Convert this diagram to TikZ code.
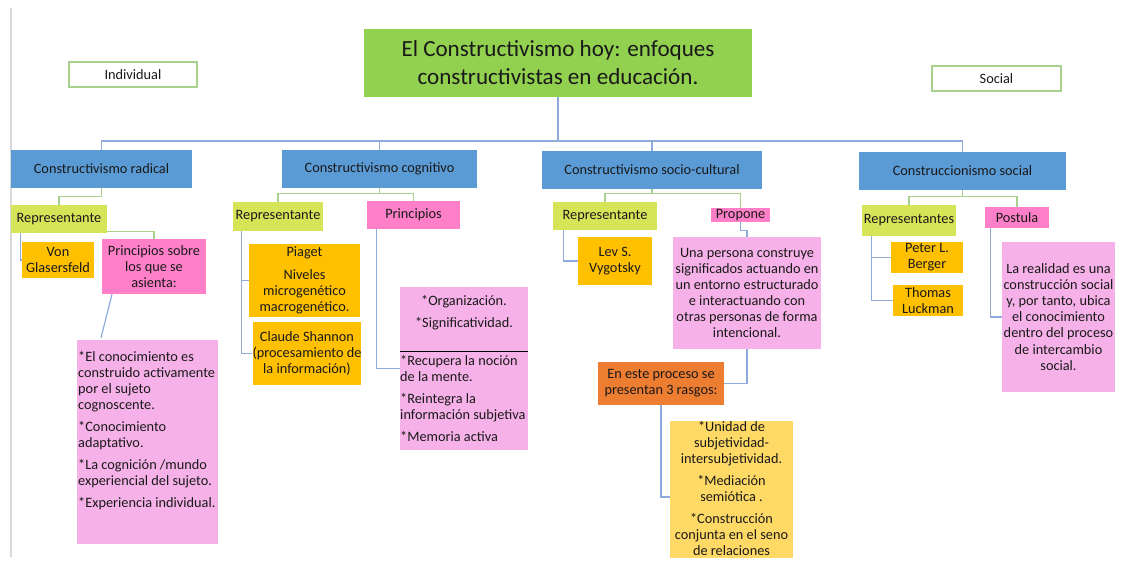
\documentclass[tikz,border=0pt]{standalone}
\usepackage{fontspec}
\setmainfont{Carlito}

\newcommand\pxu{0.03cm}
\definecolor{boxblue}{HTML}{5B9BD5}
\definecolor{titlegreen}{HTML}{92D050}
\definecolor{lime}{RGB}{214,228,88}
\definecolor{hotpink}{RGB}{255,128,200}
\definecolor{softpink}{RGB}{246,178,232}
\definecolor{amber}{HTML}{FFC000}
\definecolor{deeporange}{HTML}{ED7D31}
\definecolor{paleyellow}{HTML}{FFD966}
\definecolor{linkblue}{RGB}{143,170,220}
\definecolor{linkgreen}{RGB}{169,209,142}

\tikzset{
  sz/.style 2 args={minimum width=#1*\pxu, minimum height=#2*\pxu},
  base/.style={inner sep=0pt, align=center, text=black!90, font=\fontsize{12.2}{13.7}\selectfont},
  titlebox/.style={base, fill=titlegreen, font=\fontsize{19.7}{24}\selectfont},
  tagbox/.style={base, draw=linkgreen, line width=1pt, fill=white},
  bluebox/.style={base, fill=boxblue},
  limebox/.style={base, fill=lime},
  pinkbox/.style={base, fill=hotpink},
  softbox/.style={base, fill=softpink},
  amberbox/.style={base, fill=amber},
  orangebox/.style={base, fill=deeporange},
  yellowbox/.style={base, fill=paleyellow},
  blueline/.style={draw=linkblue, line width=1pt},
  greenline/.style={draw=linkgreen, line width=1.2pt},
}

\begin{document}
\begin{tikzpicture}[x=\pxu, y=-\pxu]
\useasboundingbox[fill=white] (0,0) rectangle (1143,585);
\draw[black!15, line width=1.5pt] (11,8) -- (11,557);

% top
\node[titlebox, sz={388}{68}] (title) at (558,63) {El Constructivismo hoy: enfoques\\constructivistas en educación.};
\node[tagbox, sz={128}{25}] (indiv) at (133,74.5) {Individual};
\node[tagbox, sz={129}{25}] (social) at (996.5,78.5) {Social};

% the four approaches
\node[bluebox, sz={181}{38}] (radical) at (101.5,169) {Constructivismo radical};
\node[bluebox, sz={195}{38}] (cognitivo) at (379.5,169) {Constructivismo cognitivo};
\node[bluebox, sz={220}{38}] (sociocult) at (652,170) {Constructivismo socio-cultural};
\node[bluebox, sz={207}{38}] (construc) at (962.5,171) {Construccionismo social};

\coordinate (hub) at (558,141);
\foreach \n in {radical,cognitivo,sociocult,construc}
  \draw[blueline] (title.south) -- (hub) -| (\n.north);

% radical
\node[limebox, sz={96}{28}] (repRad) at (59,219) {Representante};
\node[amberbox, sz={72}{36}] (von) at (58,260) {Von\\Glasersfeld};
\node[pinkbox, sz={104}{55}] (prinRad) at (154,266.5) {Principios sobre\\los que se\\asienta:};
\node[softbox, sz={141}{204}] (listRad) at (147.5,442) {};
\node[base, anchor=north west, align=left] (listRadTxt) at (78,351)
  {*El conocimiento es\\construido activamente\\por el sujeto\\cognoscente.\\[5pt]
   *Conocimiento\\adaptativo.\\[5pt]*La cognición /mundo\\experiencial del sujeto.\\[5pt]
   *Experiencia individual.};
\draw[greenline] (radical.south) -- ++(0,8) -| (repRad.north);
\draw[greenline] ([yshift=2*\pxu]repRad.south east) -| (prinRad.north);
\draw[blueline] ([xshift=10*\pxu]repRad.south west) |- (von.west);
\draw[blueline] ([xshift=-42*\pxu]prinRad.south) -- ([xshift=-46.5*\pxu, yshift=2*\pxu]listRad.north);

% cognitivo
\node[limebox, sz={90}{29}] (repCog) at (278,216.5) {Representante};
\node[pinkbox, sz={93}{28}] (prinCog) at (413.5,215) {Principios};
\node[amberbox, sz={111}{73}] (piaget) at (304.5,280.5) {Piaget\\[6pt]Niveles\\microgenético\\macrogenético.};
\node[amberbox, sz={108}{63}] (shannon) at (307,353.5) {Claude Shannon\\(procesamiento de\\la información)};
\node[softbox, sz={128}{163}] (listCog) at (464,368.5) {};
\node[base, anchor=north] (listCogTop) at (464,295) {*Organización.\\[5pt]*Significatividad.};
\node[base, anchor=north west, align=left] (listCogTxt) at (400,355)
  {*Recupera la noción\\de la mente.\\[5pt]*Reintegra la\\información subjetiva\\[5pt]*Memoria activa};
\draw[black, line width=0.8pt] (listCog.west |- 0,351) -- (listCog.east |- 0,351);
\draw[greenline] (cognitivo.south) -- ++(0,5) -| (repCog.north);
\draw[greenline] (cognitivo.south) -- ++(0,5) -| (prinCog.north);
\draw[blueline] ([xshift=9*\pxu]repCog.south west) |- (piaget.west);
\draw[blueline] ([xshift=9*\pxu]repCog.south west) |- (shannon.west);
\draw[blueline] ([xshift=10*\pxu]prinCog.south west) |- (listCog.west);

% socio-cultural
\node[limebox, sz={104}{28}] (repSoc) at (605,216) {Representante};
\node[pinkbox, sz={59}{14}] (propone) at (740.5,215) {Propone};
\node[amberbox, sz={74}{48}] (lev) at (615,261) {Lev S.\\Vygotsky};
\node[softbox, sz={148}{112}] (proponeTxt) at (747,293) {Una persona construye\\significados actuando en\\un entorno estructurado\\e interactuando con\\otras personas de forma\\intencional.};
\node[orangebox, sz={126}{43}] (rasgos) at (661,383.5) {En este proceso se\\presentan 3 rasgos:};
\begin{scope}
  \clip (600,400) rectangle (820,557);
  \node[yellowbox, sz={123}{152}] (rasgosList) at (731.5,497) {};
  \node[base, anchor=north] (rasgosTxt) at (731.5,421)
    {*Unidad de\\subjetividad-\\intersubjetividad.\\[5pt]*Mediación\\semiótica .\\[5pt]
     *Construcción\\conjunta en el seno\\de relaciones};
\end{scope}
\draw[greenline] (sociocult.south) -- ++(0,4) -| (repSoc.north);
\draw[greenline] (sociocult.south) -- ++(0,4) -| (propone.north);
\draw[blueline] ([xshift=11*\pxu]repSoc.south west) |- (lev.west);
\draw[blueline] (propone.south) -- ++(0,8) -| (proponeTxt.north);
\draw[blueline] (proponeTxt.south) |- (rasgos.east);
\draw[blueline] (rasgos.south) |- (rasgosList.west);

% construccionismo
\node[limebox, sz={94}{31}] (repCons) at (909,220.5) {Representantes};
\node[pinkbox, sz={64}{21}] (postula) at (1017,217.5) {Postula};
\node[amberbox, sz={72}{31}] (berger) at (927,257.5) {Peter L.\\Berger};
\node[amberbox, sz={70}{31}] (luckman) at (928,300.5) {Thomas\\Luckman};
\node[softbox, sz={113}{150}] (postulaTxt) at (1058.5,317) {La realidad es una\\construcción social\\y, por tanto, ubica\\el conocimiento\\dentro del proceso\\de intercambio\\social.};
\draw[greenline] (construc.south) -- ++(0,6) -| (repCons.north);
\draw[greenline] (construc.south) -- ++(0,6) -| (postula.north);
\draw[blueline] ([xshift=10*\pxu]repCons.south west) |- (berger.west);
\draw[blueline] ([xshift=10*\pxu]repCons.south west) |- (luckman.west);
\draw[blueline] ([xshift=6*\pxu]postula.south west) |- (postulaTxt.west);
\end{tikzpicture}
\end{document}
